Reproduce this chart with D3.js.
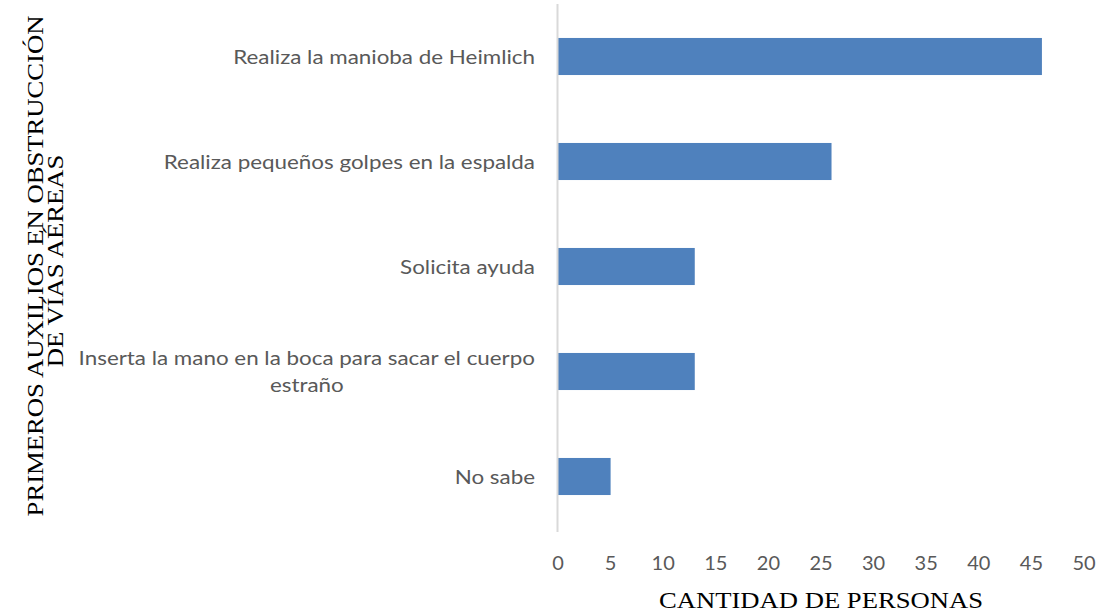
<!DOCTYPE html>
<html><head><meta charset="utf-8">
<script src="https://cdn.jsdelivr.net/npm/d3@7"></script>
<style>body{margin:0;background:#fff}</style>
</head><body>
<script>
const categories = [
  ["Realiza la manioba de Heimlich"],
  ["Realiza pequeños golpes en la espalda"],
  ["Solicita ayuda"],
  ["Inserta la mano en la boca para sacar el cuerpo", "estraño"],
  ["No sabe"]
];
const values = [46, 26, 13, 13, 5];
const xTicks = [0, 5, 10, 15, 20, 25, 30, 35, 40, 45, 50];
const xTitle = "CANTIDAD DE PERSONAS";
const yTitle = ["PRIMEROS AUXILIOS EN OBSTRUCCIÓN", "DE VÍAS AÉREAS"];

const W = 1102, H = 613;
const svg = d3.select("body").append("svg").attr("width", W).attr("height", H);

const x = d3.scaleLinear().domain([0, 50]).range([558, 1084]);
const y = d3.scaleBand().domain(d3.range(categories.length)).range([4, 529])
  .paddingInner(0.647).paddingOuter(0.3235);

const labelFont = "Lato, 'Open Sans', sans-serif";
const serif = "'Liberation Serif', 'Times New Roman', serif";
const gray = "#595959";
const labelStretch = 1.12;
const titleStretch = 1.11;

// bars
svg.append("g").selectAll("rect").data(values).join("rect")
  .attr("x", x(0))
  .attr("y", (d, i) => y(i))
  .attr("width", d => x(d) - x(0))
  .attr("height", y.bandwidth())
  .attr("fill", "#4F81BD");

// vertical axis line
svg.append("line").attr("x1", 557.5).attr("x2", 557.5).attr("y1", 4).attr("y2", 532)
  .attr("stroke", "#d9d9d9").attr("stroke-width", 2);

// x tick labels
svg.append("g").selectAll("text").data(xTicks).join("text")
  .attr("x", d => x(d)).attr("y", 570)
  .attr("text-anchor", "middle")
  .attr("font-family", labelFont).attr("font-size", 20).attr("fill", gray)
  .text(d => d);

// category labels
svg.append("g").selectAll("text").data(categories).join("text")
  .attr("transform", (d, i) => `translate(535,${y(i) + y.bandwidth() / 2}) scale(${labelStretch},1)`)
  .attr("font-family", labelFont).attr("font-size", 20).attr("fill", gray)
  .each(function(lines) {
    const t = d3.select(this);
    const n = lines.length;
    lines.forEach((ln, k) => {
      t.append("tspan").attr("y", (k - (n - 1) / 2) * 28).attr("dy", "0.35em").text(ln);
    });
    const maxW = d3.max(t.selectAll("tspan").nodes(), s => s.getComputedTextLength());
    t.selectAll("tspan").attr("x", -maxW / 2).attr("text-anchor", "middle");
  });

// x title
svg.append("text").attr("transform", `translate(821,608) scale(${titleStretch},1)`)
  .attr("text-anchor", "middle")
  .attr("font-family", serif).attr("font-size", 24)
  .attr("fill", "#000").text(xTitle);

// y title
const centers = [[43, 266], [63, 261]];
yTitle.forEach((ln, k) => {
  svg.append("text")
    .attr("transform", `translate(${centers[k][0]},${centers[k][1]}) rotate(-90) scale(${titleStretch},1)`)
    .attr("text-anchor", "middle")
    .attr("font-family", serif).attr("font-size", 24)
    .attr("fill", "#000").text(ln);
});
</script>
</body></html>
